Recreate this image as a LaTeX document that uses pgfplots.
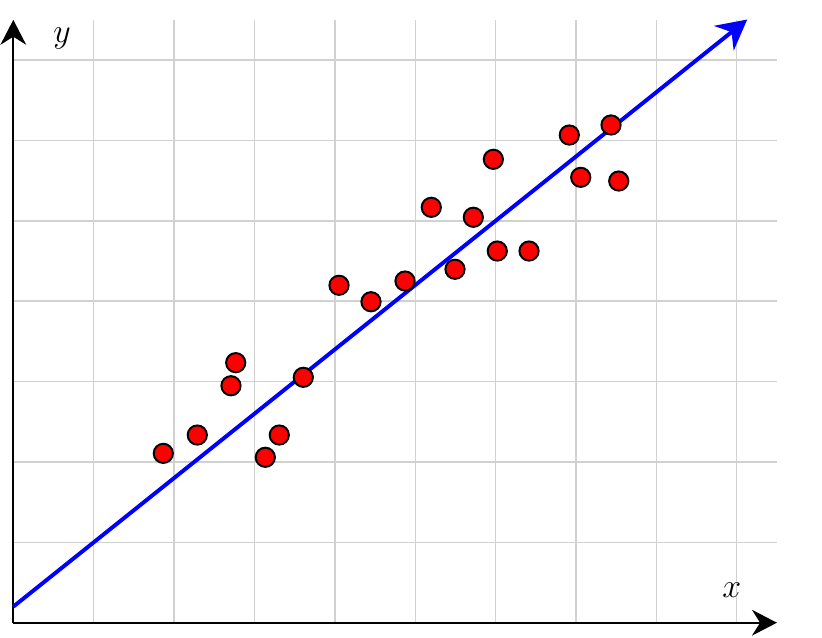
\documentclass[border=0pt]{standalone}
\usepackage{pgfplots}
\pgfplotsset{compat=1.18}
\usetikzlibrary{arrows.meta}
\begin{document}
\begin{tikzpicture}
\useasboundingbox (-0.1655,-0.19) rectangle (10.061,7.747);
\begin{axis}[
  x=1cm, y=1cm,
  anchor=origin, at={(0,0)},
  xmin=0, xmax=9.5, ymin=0, ymax=7.5,
  axis lines=middle,
  axis line style={line width=0.75pt, -{Stealth[length=3.1mm,width=3.2mm]}},
  xtick={1,...,9}, ytick={1,...,7},
  xticklabels={}, yticklabels={},
  major tick style={draw=none},
  grid=major,
  major grid style={line width=0.5pt, black!18},
  clip=false,
]
\addplot[blue, line width=1.4pt, -{Stealth[length=3.7mm,width=3.9mm]}] coordinates {(0,0.2) (9.13,7.504)};
\addplot[only marks, mark=*, mark size=3.4pt, mark options={fill=red, draw=black, line width=0.7pt}] coordinates {
(1.866,2.107) (2.289,2.335) (2.767,3.235) (2.708,2.948) (3.608,3.053)
(3.309,2.335) (3.135,2.058) (4.052,4.198) (4.450,3.993) (4.873,4.251)
(5.200,5.168) (5.723,5.044) (5.495,4.397) (6.021,4.624) (6.416,4.624)
(5.972,5.765) (6.917,6.067) (7.436,6.192) (7.059,5.541) (7.532,5.495)
};
\node[font=\fontsize{13.2}{16}\selectfont] at (axis cs:0.606,7.27) {$y$};
\node[font=\fontsize{13.2}{16}\selectfont] at (axis cs:8.94,0.41) {$x$};
\end{axis}
\end{tikzpicture}
\end{document}
